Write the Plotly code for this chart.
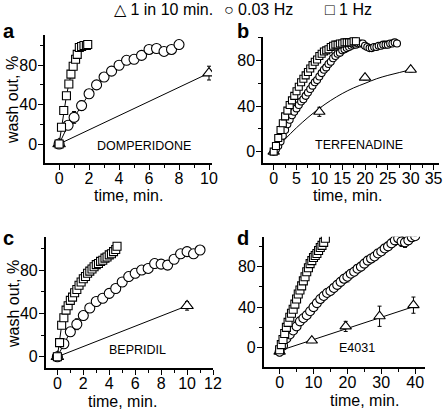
import plotly.graph_objects as go

# ---------------- data ----------------
# Panel a: DOMPERIDONE
a_sq_t = [0, 0.16, 0.31, 0.49, 0.65, 0.79, 0.94, 1.1, 1.21, 1.35, 1.5, 1.66, 1.82, 1.91]
a_sq_y = [0, 17, 34, 49, 61, 71, 79, 86, 91, 98, 99, 100, 100, 101]
a_ci_t = [0, 0.6, 1.0, 1.5, 2.0, 2.5, 3.0, 3.5, 4.0, 4.5, 5.0, 5.5, 6.0, 6.5, 7.0, 7.5, 8.0]
a_ci_y = [0, 19, 27, 39, 51, 60, 68, 74, 80, 85, 86, 90, 96, 97, 94, 96, 101]
a_ci_e = [3, 4, 6, 5, 4, 4, 3, 3, 2, 2, 3, 4, 3, 2, 2, 2, 2]
a_tr_t = [0, 10]
a_tr_y = [0, 72]
a_tr_e = [3, 7]

# Panel b: TERFENADINE
b_sq_t = [i * 0.5 for i in range(37)]
b_sq_y = [0, 5, 12, 19, 25, 31, 36, 41, 45, 49, 53, 57, 61, 64, 67, 70, 73, 76, 79, 81,
          84, 86, 88, 89, 90, 92, 93, 94, 94, 95, 95, 96, 96, 96, 96, 97, 97]
b_ci_t = [i * 0.5 for i in range(55)]
b_ci_y = [0, 2, 5, 9, 14, 19, 24, 28, 32, 35, 38, 41, 44, 46, 49, 52, 55, 58, 61, 63,
          66, 69, 72, 74, 77, 79, 82, 84, 86, 87, 89, 90, 91, 92, 93, 94, 94, 95, 95, 95,
          93, 92, 91, 91, 92, 92, 93, 93, 94, 94, 94, 95, 95, 96, 95]
b_tr_t = [0, 10, 20, 30]
b_tr_y = [0, 35, 65, 72]
b_tr_e = [1, 4, 2, 2]
b_fit_t = [0, 2.5, 5, 7.5, 10, 12.5, 15, 17.5, 20, 22.5, 25, 27.5, 30]
b_fit_y = [0, 11, 21, 30, 38, 45, 51, 56, 60, 64, 67, 69.5, 72]

# Panel c: BEPRIDIL
c_sq_t = [0, 0.17, 0.33, 0.5, 0.67, 0.83, 1.0, 1.17, 1.33, 1.5, 1.67, 1.83, 2.0, 2.17,
          2.33, 2.5, 2.67, 2.83, 3.0, 3.17, 3.33, 3.5, 3.67, 3.83, 4.0, 4.17, 4.33, 4.5, 4.6]
c_sq_y = [0, 13, 29, 36, 43, 47, 52, 55, 59, 62, 66, 69, 72, 74, 77, 79, 81, 83, 85,
          86, 88, 89, 91, 92, 94, 95, 97, 99, 102]
c_ci_t = [i * 0.5 for i in range(23)]
c_ci_y = [0, 12, 23, 30, 38, 45, 51, 54, 58.5, 63, 69, 74, 77, 80, 81.5, 86, 85.5, 84.6,
          90, 95, 97, 95, 98.5]
c_ci_e = [2, 3, 4, 5, 4, 4, 4, 4, 4, 4, 4, 4, 4, 4, 4, 4, 4, 4, 3, 3, 4, 3, 2]
c_tr_t = [0, 10]
c_tr_y = [0, 47]
c_tr_e = [2, 4]

# Panel d: E4031
d_sq_t = [i * 0.5 for i in range(28)]
d_sq_y = [-2, 3, 8, 14, 20, 25, 30, 34, 38, 43, 48, 53, 57, 61, 66, 70, 75, 79, 83, 86,
          89, 91, 93, 96, 99, 101, 104, 108]
d_ci_t = list(range(41))
d_ci_y = [-4, 2, 9, 13, 17, 21, 26, 29, 32, 36, 40, 44, 48, 51, 54, 56, 59, 62, 65, 68,
          70, 73, 75, 78, 80, 83, 86, 88, 90, 93, 95, 98, 100, 103, 106, 108, 105, 104,
          106, 109, 110]
d_ci_e = [4, 3, 3, 3, 3, 3, 3, 3, 3, 3, 3, 3, 3, 4, 4, 4, 4, 4, 4, 4, 5, 4, 4, 4, 4,
          4, 4, 4, 4, 4, 4, 4, 4, 4, 5, 6, 5, 5, 4, 3, 2]
d_tr_t = [0, 9.5, 19.5, 29.5, 39.5]
d_tr_y = [-4, 7, 21, 31, 42]
d_tr_e = [4, 2, 5, 10, 8]
d_fit_t = [0, 40]
d_fit_y = [-3, 41]

legend_labels = ["1 in 10 min.", "0.03 Hz", "1 Hz"]
panel_letters = ["a", "b", "c", "d"]
drug_names = ["DOMPERIDONE", "TERFENADINE", "BEPRIDIL", "E4031"]
x_title = "time, min."
y_title = "wash out, %"

# ---------------- figure ----------------
FONT = "Liberation Sans, Arial, sans-serif"
W, H = 444, 419
fig = go.Figure()


def mk(t, y, symbol, size, xa, ya, err=None, mode="lines+markers"):
    tr = dict(x=t, y=y, mode=mode, xaxis=xa, yaxis=ya, showlegend=False,
              line=dict(color="black", width=1),
              marker=dict(symbol=symbol, size=size, color="white",
                          line=dict(color="black", width=1.1)))
    if err is not None:
        tr["error_y"] = dict(type="data", array=err, color="black", thickness=1, width=2)
    fig.add_trace(go.Scatter(**tr))


def line(t, y, xa, ya):
    fig.add_trace(go.Scatter(x=t, y=y, mode="lines", xaxis=xa, yaxis=ya, showlegend=False,
                             line=dict(color="black", width=1, shape="spline")))


# a
mk(a_tr_t, a_tr_y, "triangle-up", 11, "x", "y", a_tr_e)
mk(a_ci_t, a_ci_y, "circle", 10, "x", "y", a_ci_e)
mk(a_sq_t, a_sq_y, "square", 8, "x", "y")
# b
line(b_fit_t, b_fit_y, "x2", "y2")
mk(b_tr_t, b_tr_y, "triangle-up", 10, "x2", "y2", b_tr_e, mode="markers")
mk(b_ci_t, b_ci_y, "circle", 7, "x2", "y2")
mk(b_sq_t, b_sq_y, "square", 7, "x2", "y2")
# c
mk(c_tr_t, c_tr_y, "triangle-up", 11, "x3", "y3", c_tr_e)
mk(c_ci_t, c_ci_y, "circle", 10, "x3", "y3", c_ci_e)
mk(c_sq_t, c_sq_y, "square", 8, "x3", "y3")
# d
line(d_fit_t, d_fit_y, "x4", "y4")
mk(d_tr_t, d_tr_y, "triangle-up", 10, "x4", "y4", d_tr_e, mode="markers")
mk(d_ci_t, d_ci_y, "circle", 9, "x4", "y4", d_ci_e)
mk(d_sq_t, d_sq_y, "square", 8, "x4", "y4")


def px_x(p):
    return p / W


def px_y(p):
    return 1 - p / H


def xaxis(dom, rng, dtick, minor, anchor):
    return dict(domain=dom, range=rng, anchor=anchor, dtick=dtick, tick0=0,
                automargin=False, ticklabelstandoff=-5,
                showline=True, linecolor="black", linewidth=1.5, mirror=False,
                ticks="outside", ticklen=5, tickwidth=1.2, tickcolor="black",
                minor=dict(dtick=minor, tick0=0, ticks="outside", ticklen=3,
                           tickwidth=1, tickcolor="black"),
                showgrid=False, zeroline=False,
                tickfont=dict(family=FONT, size=16, color="black"))


def yaxis(dom, rng, anchor):
    return dict(domain=dom, range=rng, anchor=anchor, dtick=40, tick0=0,
                automargin=False, ticklabelstandoff=-2,
                showline=True, linecolor="black", linewidth=1.5,
                ticks="outside", ticklen=5, tickwidth=1.2, tickcolor="black",
                minor=dict(dtick=20, tick0=0, ticks="outside", ticklen=3,
                           tickwidth=1, tickcolor="black"),
                showgrid=False, zeroline=False,
                tickfont=dict(family=FONT, size=16, color="black"))


fig.update_layout(
    width=W, height=H, margin=dict(l=0, r=0, t=0, b=0, autoexpand=False),
    paper_bgcolor="white", plot_bgcolor="white",
    xaxis=xaxis([px_x(45), px_x(212)], [-0.94, 10.2], 2, 1, "y"),
    yaxis=yaxis([px_y(163), px_y(35)], [-19.3, 110.7], "x"),
    xaxis2=xaxis([px_x(263), px_x(439)], [-2.34, 36.2], 5, 2.5, "y2"),
    yaxis2=yaxis([px_y(163), px_y(36.7)], [-10, 101], "x2"),
    xaxis3=xaxis([px_x(45.7), px_x(213)], [-0.9, 12.0], 2, 1, "y3"),
    yaxis3=yaxis([px_y(368), px_y(236.7)], [-10.4, 110.8], "x3"),
    xaxis4=xaxis([px_x(263.7), px_x(425.3)], [-4.7, 43], 10, 5, "y4"),
    yaxis4=yaxis([px_y(367.3), px_y(236.7)], [-19.4, 109.6], "x4"),
)

anns = []
# legend as text
leg_items = [("△", legend_labels[0], 112), ("○", legend_labels[1], 222), ("□", legend_labels[2], 323)]
for sym, lab, xp in leg_items:
    anns.append(dict(text=sym + " " + lab, x=px_x(xp), y=px_y(9), xref="paper", yref="paper",
                     xanchor="left", yanchor="middle", showarrow=False,
                     font=dict(family=FONT, size=16, color="black")))
# panel letters
for lt, (xp, yp) in zip(panel_letters, [(1, 31), (235, 31), (1, 238), (235, 238)]):
    anns.append(dict(text="<b>" + lt + "</b>", x=px_x(xp), y=px_y(yp), xref="paper", yref="paper",
                     xanchor="left", yanchor="middle", showarrow=False,
                     font=dict(family=FONT, size=20, color="black")))
# axis titles
for xp, yp in [(128, 196), (347, 196), (122, 401), (364, 400)]:
    anns.append(dict(text=x_title, x=px_x(xp), y=px_y(yp), xref="paper", yref="paper",
                     xanchor="center", yanchor="middle", showarrow=False,
                     font=dict(family=FONT, size=16, color="black")))
for xp, yp in [(13, 100), (13, 304)]:
    anns.append(dict(text=y_title, x=px_x(xp), y=px_y(yp), xref="paper", yref="paper",
                     xanchor="center", yanchor="middle", showarrow=False, textangle=-90,
                     font=dict(family=FONT, size=16, color="black")))
# drug names
for name, (xa, ya, xv, yv) in zip(drug_names, [("x", "y", 5.64, -2), ("x2", "y2", 18.6, 6),
                                               ("x3", "y3", 6.2, 6), ("x4", "y4", 22.8, 0)]):
    anns.append(dict(text=name, x=xv, y=yv, xref=xa, yref=ya, showarrow=False,
                     xanchor="center", yanchor="middle",
                     font=dict(family=FONT, size=12.5, color="black")))
fig.update_layout(annotations=anns)

fig.write_html("out.html", config={"displayModeBar": False},
               post_script="document.body.style.margin='0';document.body.style.padding='0';")
